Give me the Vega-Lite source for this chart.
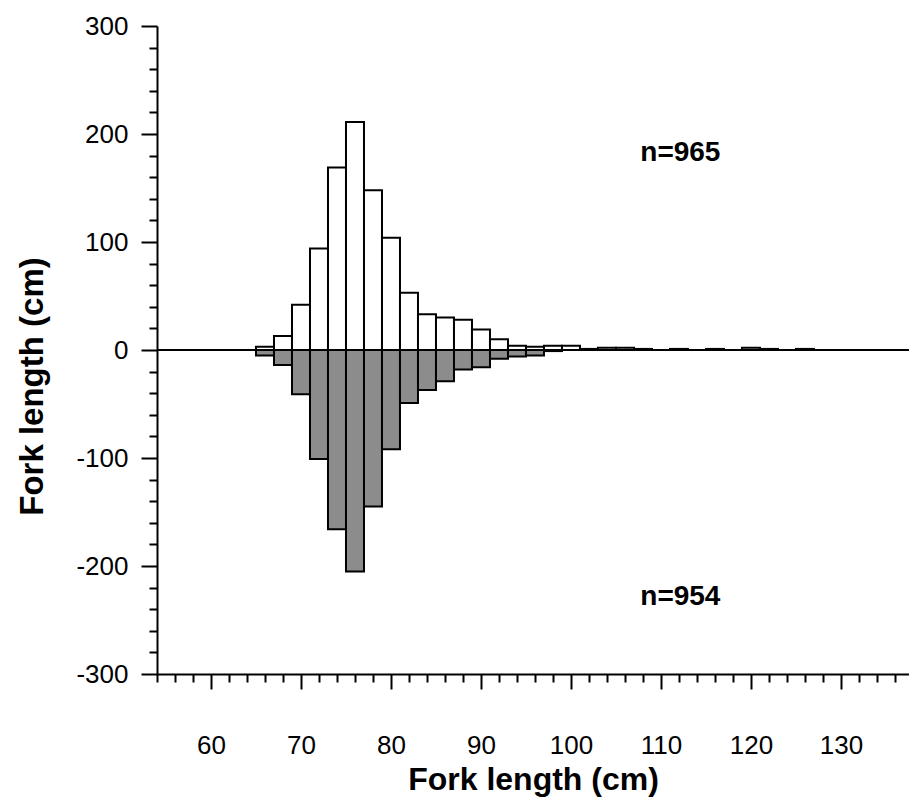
{
  "$schema": "https://vega.github.io/schema/vega-lite/v6.json",
  "autosize": {"type": "none"},
  "padding": {"left": 157, "top": 26, "right": 0, "bottom": 124},
  "width": 752,
  "height": 648,
  "background": "white",
  "config": {"view": {"stroke": null}, "font": "Liberation Sans"},
  "datasets": {
    "bins": [
      {"start": 65, "end": 67, "up": 3, "down": -5},
      {"start": 67, "end": 69, "up": 13, "down": -14},
      {"start": 69, "end": 71, "up": 42, "down": -41},
      {"start": 71, "end": 73, "up": 94, "down": -101},
      {"start": 73, "end": 75, "up": 169, "down": -166},
      {"start": 75, "end": 77, "up": 211, "down": -205},
      {"start": 77, "end": 79, "up": 148, "down": -145},
      {"start": 79, "end": 81, "up": 104, "down": -92},
      {"start": 81, "end": 83, "up": 53, "down": -49},
      {"start": 83, "end": 85, "up": 33, "down": -37},
      {"start": 85, "end": 87, "up": 30, "down": -29},
      {"start": 87, "end": 89, "up": 28, "down": -18},
      {"start": 89, "end": 91, "up": 19, "down": -16},
      {"start": 91, "end": 93, "up": 10, "down": -8},
      {"start": 93, "end": 95, "up": 4, "down": -6},
      {"start": 95, "end": 97, "up": 3, "down": -5},
      {"start": 97, "end": 99, "up": 4, "down": -1},
      {"start": 99, "end": 101, "up": 4, "down": 0},
      {"start": 101, "end": 103, "up": 1, "down": 0},
      {"start": 103, "end": 105, "up": 2, "down": 0},
      {"start": 105, "end": 107, "up": 2, "down": 0},
      {"start": 107, "end": 109, "up": 1, "down": 0},
      {"start": 111, "end": 113, "up": 1, "down": 0},
      {"start": 115, "end": 117, "up": 1, "down": 0},
      {"start": 119, "end": 121, "up": 2, "down": 0},
      {"start": 121, "end": 123, "up": 1, "down": 0},
      {"start": 125, "end": 127, "up": 1, "down": 0}
    ],
    "notes": [
      {"label": "n=965", "x": 107.7, "y": 182},
      {"label": "n=954", "x": 107.7, "y": -229}
    ]
  },
  "layer": [
    {
      "data": {"name": "bins"},
      "mark": {"type": "bar", "fill": "#8c8c8c", "stroke": "black", "strokeWidth": 2, "clip": true},
      "encoding": {
        "x": {
          "field": "start", "type": "quantitative",
          "scale": {"domain": [54, 137.56], "nice": false, "zero": false},
          "axis": {
            "values": [54,56,58,60,62,64,66,68,70,72,74,76,78,80,82,84,86,88,90,92,94,96,98,100,102,104,106,108,110,112,114,116,118,120,122,124,126,128,130,132,134,136],
            "tickCount": 200,
            "labelExpr": "datum.value % 10 === 0 ? '' + datum.value : ''",
            "tickSize": {"condition": {"test": "datum.value % 10 === 0", "value": 15}, "value": 8},
            "tickWidth": 2, "tickColor": "black",
            "domainWidth": 2, "domainColor": "black",
            "grid": false,
            "labelFontSize": 26, "labelColor": "black", "labelPadding": 43,
            "labelFlush": false, "labelOverlap": false,
            "title": "Fork length (cm)", "titleFontSize": 32, "titleFontWeight": "bold",
            "titleColor": "black", "titleBaseline": "middle", "titleY": 105
          }
        },
        "x2": {"field": "end"},
        "y": {
          "field": "down", "type": "quantitative",
          "scale": {"domain": [-300, 300], "nice": false},
          "axis": {
            "values": [-300,-280,-260,-240,-220,-200,-180,-160,-140,-120,-100,-80,-60,-40,-20,0,20,40,60,80,100,120,140,160,180,200,220,240,260,280,300],
            "tickCount": 200,
            "labelExpr": "datum.value % 100 === 0 ? '' + datum.value : ''",
            "tickSize": {"condition": {"test": "datum.value % 100 === 0", "value": 16}, "value": 8},
            "tickWidth": 2, "tickColor": "black",
            "domainWidth": 2, "domainColor": "black",
            "grid": false,
            "labelFontSize": 26, "labelColor": "black", "labelPadding": 13,
            "labelFlush": false, "labelOverlap": false,
            "title": "Fork length (cm)", "titleFontSize": 33, "titleFontWeight": "bold",
            "titleColor": "black", "titleBaseline": "middle", "titleX": -125, "titleY": 360
          }
        },
        "y2": {"datum": 0}
      }
    },
    {
      "data": {"name": "bins"},
      "mark": {"type": "bar", "fill": "white", "stroke": "black", "strokeWidth": 2, "clip": true},
      "encoding": {
        "x": {"field": "start", "type": "quantitative"},
        "x2": {"field": "end"},
        "y": {"field": "up", "type": "quantitative"},
        "y2": {"datum": 0}
      }
    },
    {
      "data": {"values": [{"zero": 0}]},
      "mark": {"type": "rule", "color": "black", "strokeWidth": 2},
      "encoding": {"y": {"field": "zero", "type": "quantitative"}}
    },
    {
      "data": {"name": "notes"},
      "mark": {"type": "text", "align": "left", "baseline": "middle", "fontSize": 28, "fontWeight": "bold", "color": "black"},
      "encoding": {
        "x": {"field": "x", "type": "quantitative"},
        "y": {"field": "y", "type": "quantitative"},
        "text": {"field": "label"}
      }
    }
  ]
}
